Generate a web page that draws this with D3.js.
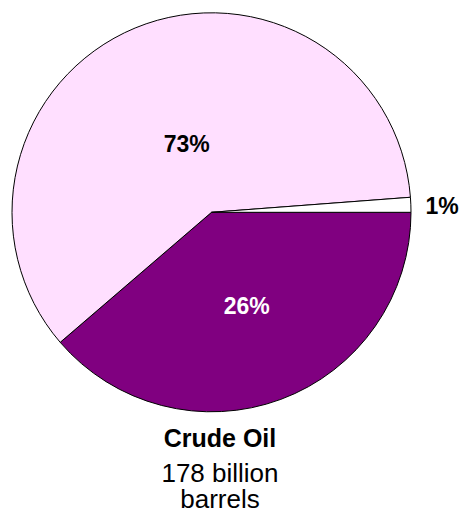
<!DOCTYPE html>
<html><head><meta charset="utf-8">
<script src="https://cdn.jsdelivr.net/npm/d3@7"></script>
<style>html,body{margin:0;padding:0;background:#fff;}svg{display:block;}</style>
</head><body>
<script>
// Slice shares as drawn in the picture (angles), with the printed labels.
// Order: clockwise from 3 o'clock.
const categories = ["Exported", "Remaining", "Other"];
const values = [38.7, 60.1, 1.2];
const labels = ["26%", "73%", "1%"];
const colors = ["#800080", "#ffdfff", "#ffffff"];
const labelColors = ["#ffffff", "#000000", "#000000"];
const titleLines = ["Crude Oil", "178 billion", "barrels"];

const W = 463, H = 512, cx = 211.5, cy = 212.3, R = 199.5;
const svg = d3.select("body").append("svg").attr("width", W).attr("height", H);
const g = svg.append("g").attr("transform", `translate(${cx},${cy})`);

const startA = Math.PI / 2;
const pie = d3.pie().sort(null).value(d => d)
  .startAngle(startA).endAngle(startA + 2 * Math.PI);
const arcs = pie(values);
const arc = d3.arc().innerRadius(0).outerRadius(R);

g.selectAll("path").data(arcs).join("path")
  .attr("d", arc).attr("fill", (d, i) => colors[i])
  .attr("stroke", "#000").attr("stroke-width", 1).attr("stroke-linejoin", "round");

const labelPos = [[35.2, 102], [-24.8, -60], [230.5, 1.5]];
g.selectAll("text.lbl").data(arcs).join("text").attr("class", "lbl")
  .attr("x", (d, i) => labelPos[i][0]).attr("y", (d, i) => labelPos[i][1])
  .attr("text-anchor", "middle")
  .attr("font-family", "Liberation Sans, Arial, sans-serif")
  .attr("font-weight", "bold").attr("font-size", 23)
  .attr("fill", (d, i) => labelColors[i])
  .text((d, i) => labels[i]);

const ys = [446.5, 481.5, 507.5];
const fs = [25, 26, 26];
svg.selectAll("text.title").data(titleLines).join("text").attr("class", "title")
  .attr("x", 220).attr("y", (d, i) => ys[i]).attr("text-anchor", "middle")
  .attr("font-family", "Liberation Sans, Arial, sans-serif")
  .attr("font-size", (d, i) => fs[i])
  .attr("font-weight", (d, i) => i === 0 ? "bold" : "normal")
  .text(d => d);
</script>
</body></html>
